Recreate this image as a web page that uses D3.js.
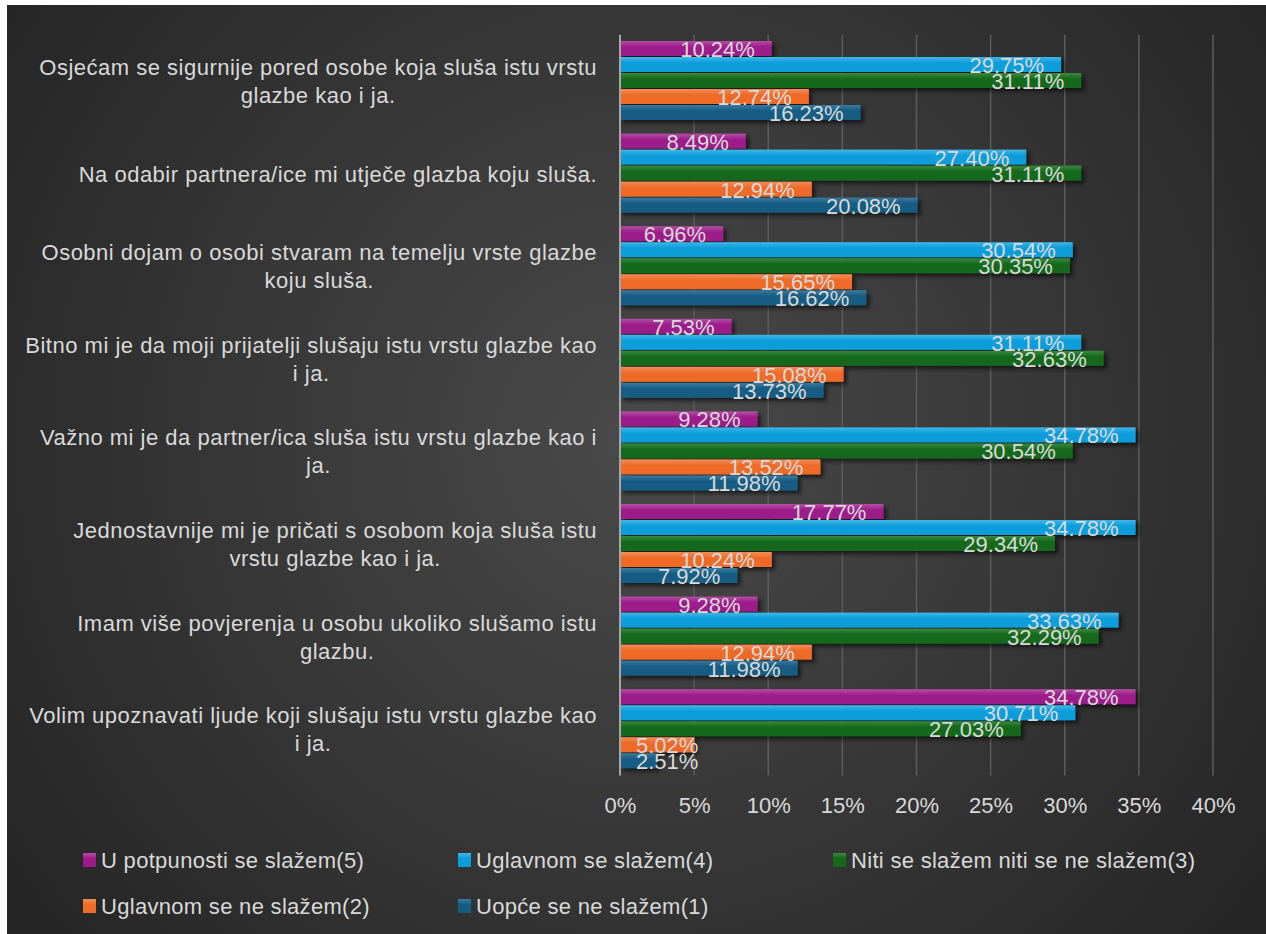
<!DOCTYPE html>
<html>
<head>
<meta charset="utf-8">
<script src="https://cdn.jsdelivr.net/npm/d3@7"></script>
<style>
  html, body { margin: 0; padding: 0; background: #fff; }
  svg { display: block; }
  text { font-family: "Liberation Sans", Arial, sans-serif; }
</style>
</head>
<body>
<div id="output"></div>
<script>
var categories = [
  'Osjećam se sigurnije pored osobe koja sluša istu vrstu\nglazbe kao i ja.',
  'Na odabir partnera/ice mi utječe glazba koju sluša.',
  'Osobni dojam o osobi stvaram na temelju vrste glazbe\nkoju sluša.',
  'Bitno mi je da moji prijatelji slušaju istu vrstu glazbe kao\ni ja.',
  'Važno mi je da partner/ica sluša istu vrstu glazbe kao i\nja.',
  'Jednostavnije mi je pričati s osobom koja sluša istu\nvrstu glazbe kao i ja.',
  'Imam više povjerenja u osobu ukoliko slušamo istu\nglazbu.',
  'Volim upoznavati ljude koji slušaju istu vrstu glazbe kao\ni ja.'
];

var seriesNames = [
  'U potpunosti se slažem(5)',
  'Uglavnom se slažem(4)',
  'Niti se slažem niti se ne slažem(3)',
  'Uglavnom se ne slažem(2)',
  'Uopće se ne slažem(1)'
];

var s5 = [10.24, 8.49, 6.96, 7.53, 9.28, 17.77, 9.28, 34.78];
var s4 = [29.75, 27.40, 30.54, 31.11, 34.78, 34.78, 33.63, 30.71];
var s3 = [31.11, 31.11, 30.35, 32.63, 30.54, 29.34, 32.29, 27.03];
var s2 = [12.74, 12.94, 15.65, 15.08, 13.52, 10.24, 12.94, 5.02];
var s1 = [16.23, 20.08, 16.62, 13.73, 11.98, 7.92, 11.98, 2.51];

var xTicks = [0, 5, 10, 15, 20, 25, 30, 35, 40];

var seriesColors = [
  ['#b64ea6', '#9c1b8a'],
  ['#42b6e9', '#0a9ddb'],
  ['#3a8a3e', '#14691b'],
  ['#f58d58', '#ee6b28'],
  ['#3d7aa0', '#155c83']
];

var allSeries = [s5, s4, s3, s2, s1];

var width = 1266;
var height = 934;
var plotLeft = 620, plotRight = 1213, plotTop = 34.7, plotBottom = 775.5;

var svg = d3.select('#output')
  .append('svg')
  .attr('width', width)
  .attr('height', height);

var defs = svg.append('defs');

var bg = defs.append('radialGradient')
  .attr('id', 'bg')
  .attr('gradientUnits', 'userSpaceOnUse')
  .attr('cx', 640).attr('cy', 440).attr('r', 760);
bg.append('stop').attr('offset', '0%').attr('stop-color', '#4a4a4a');
bg.append('stop').attr('offset', '100%').attr('stop-color', '#262626');

seriesColors.forEach(function (c, i) {
  var g = defs.append('linearGradient')
    .attr('id', 'bar' + i)
    .attr('x1', 0).attr('y1', 0).attr('x2', 0).attr('y2', 1);
  g.append('stop').attr('offset', '0%').attr('stop-color', c[0]);
  g.append('stop').attr('offset', '40%').attr('stop-color', c[1]);
  g.append('stop').attr('offset', '100%').attr('stop-color', c[1]);
});

var shadow = defs.append('filter')
  .attr('id', 'shadow')
  .attr('x', '-5%').attr('y', '-10%').attr('width', '115%').attr('height', '130%');
shadow.append('feDropShadow')
  .attr('dx', 3).attr('dy', 3).attr('stdDeviation', 2)
  .attr('flood-color', '#000').attr('flood-opacity', 0.6);

// chart background, white strip on top and left
svg.append('rect')
  .attr('x', 7).attr('y', 5)
  .attr('width', width - 7).attr('height', height - 5)
  .attr('fill', 'url(#bg)');

var xScale = d3.scaleLinear().domain([0, 40]).range([plotLeft, plotRight]);

var yScale = d3.scaleBand()
  .domain(d3.range(categories.length))
  .range([plotTop, plotBottom])
  .paddingInner(0.136)
  .paddingOuter(0.068);

var inner = d3.scaleBand()
  .domain(d3.range(allSeries.length))
  .range([0, yScale.bandwidth()]);

// gridlines
svg.append('g')
  .selectAll('line')
  .data(xTicks.slice(1))
  .enter()
  .append('line')
  .attr('x1', (d) => xScale(d)).attr('x2', (d) => xScale(d))
  .attr('y1', plotTop).attr('y2', plotBottom)
  .attr('stroke', '#5c5c5c')
  .attr('stroke-width', 1.5);

// bars
allSeries.forEach(function (vals, si) {
  var g = svg.append('g').attr('filter', 'url(#shadow)');
  g.selectAll('rect')
    .data(vals)
    .enter()
    .append('rect')
    .attr('x', xScale(0))
    .attr('y', (d, i) => yScale(i) + inner(si))
    .attr('width', (d) => xScale(d) - xScale(0))
    .attr('height', inner.bandwidth() - 1)
    .attr('fill', 'url(#bar' + si + ')');
});

// axis line
svg.append('line')
  .attr('x1', xScale(0)).attr('x2', xScale(0))
  .attr('y1', plotTop).attr('y2', plotBottom)
  .attr('stroke', '#a6a6a6')
  .attr('stroke-width', 2);

// data labels (inside end, pushed right when the bar is too short)
allSeries.forEach(function (vals, si) {
  svg.append('g')
    .selectAll('text')
    .data(vals)
    .enter()
    .append('text')
    .attr('y', (d, i) => yScale(i) + inner(si) + inner.bandwidth())
    .attr('font-size', 22)
    .attr('fill', '#d9d9d9')
    .attr('text-anchor', 'end')
    .text((d) => d.toFixed(2) + '%')
    .attr('x', function (d) {
      var w = this.getComputedTextLength();
      return Math.max(xScale(d) - 17, xScale(0) + 16 + w);
    });
});

// x axis
var xAxis = d3.axisBottom(xScale)
  .tickValues(xTicks)
  .tickSize(0)
  .tickPadding(0)
  .tickFormat((d) => d + '%');

var xg = svg.append('g')
  .attr('transform', 'translate(0,' + (plotBottom + 22) + ')')
  .call(xAxis);
xg.select('.domain').remove();
xg.selectAll('text')
  .attr('font-size', 22)
  .attr('fill', '#d9d9d9')
  .attr('font-family', 'Liberation Sans, Arial, sans-serif');

// category labels, block right aligned, lines centred
var catRight = 597;
var lineH = 28;
categories.forEach(function (c, i) {
  var lines = c.split('\n');
  var cy = yScale(i) + yScale.bandwidth() / 2;
  var g = svg.append('g');
  var texts = g.selectAll('text')
    .data(lines)
    .enter()
    .append('text')
    .attr('font-size', 22)
    .attr('letter-spacing', 0.5)
    .attr('fill', '#d9d9d9')
    .attr('text-anchor', 'middle')
    .attr('y', (d, k) => cy + 8 + (k - (lines.length - 1) / 2) * lineH)
    .text((d) => d);
  var maxW = d3.max(texts.nodes(), (n) => n.getComputedTextLength());
  texts.attr('x', catRight - maxW / 2);
});

// legend
var legendPos = [[83, 860], [458, 860], [833, 860], [83, 906], [458, 906]];
var legend = svg.append('g')
  .selectAll('g')
  .data(seriesNames)
  .enter()
  .append('g')
  .attr('transform', (d, i) => 'translate(' + legendPos[i][0] + ',' + legendPos[i][1] + ')');

legend.append('rect')
  .attr('x', 0).attr('y', -7)
  .attr('width', 13).attr('height', 14)
  .attr('fill', (d, i) => 'url(#bar' + i + ')');

legend.append('text')
  .attr('x', 18).attr('y', 8)
  .attr('font-size', 22)
  .attr('letter-spacing', 0.3)
  .attr('fill', '#d9d9d9')
  .text((d) => d);
</script>
</body>
</html>
